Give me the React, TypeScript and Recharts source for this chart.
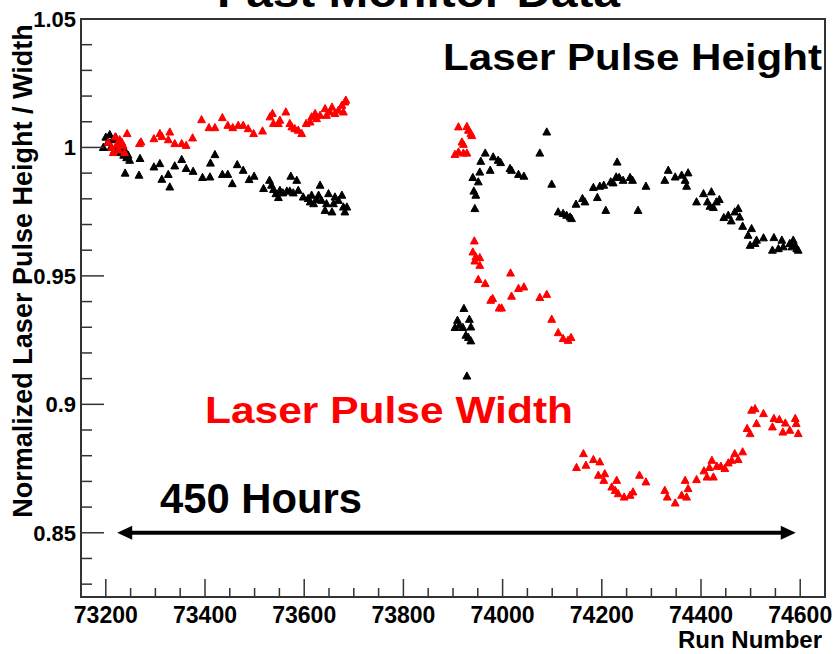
import React from 'react';
import { ScatterChart, Scatter, XAxis, YAxis, ReferenceLine } from 'recharts';

// ---------- data ----------
const xMajorTicks = [73200, 73400, 73600, 73800, 74000, 74200, 74400, 74600];
const xMinorTicks = [73250, 73300, 73350, 73450, 73500, 73550, 73650, 73700, 73750, 73850, 73900, 73950, 74050, 74100, 74150, 74250, 74300, 74350, 74450, 74500, 74550];
const yMajorTicks = [0.85, 0.9, 0.95, 1, 1.05];
const yMinorTicks = [0.83, 0.84, 0.86, 0.87, 0.88, 0.89, 0.91, 0.92, 0.93, 0.94, 0.96, 0.97, 0.98, 0.99, 1.01, 1.02, 1.03, 1.04];

const pulseHeight = [
  { run: 73195, value: 1.0 }, { run: 73200, value: 1.004 }, { run: 73204, value: 1.002 }, { run: 73208, value: 1.005 },
  { run: 73210, value: 1.0 }, { run: 73214, value: 1.003 }, { run: 73218, value: 0.999 }, { run: 73220, value: 1.004 },
  { run: 73224, value: 1.001 }, { run: 73227, value: 1.002 }, { run: 73230, value: 0.998 }, { run: 73233, value: 1.0 },
  { run: 73236, value: 0.997 }, { run: 73238, value: 0.999 }, { run: 73242, value: 0.996 }, { run: 73245, value: 0.997 },
  { run: 73248, value: 0.995 }, { run: 73239, value: 0.990 }, { run: 73269, value: 0.9957 }, { run: 73267, value: 0.9892 },
  { run: 73297, value: 0.9924 }, { run: 73309, value: 0.9937 }, { run: 73313, value: 0.9876 }, { run: 73326, value: 0.9895 },
  { run: 73329, value: 0.9846 }, { run: 73339, value: 0.9928 }, { run: 73353, value: 0.9953 }, { run: 73362, value: 0.9918 },
  { run: 73376, value: 0.9907 }, { run: 73395, value: 0.9883 }, { run: 73410, value: 0.9885 }, { run: 73411, value: 0.9939 },
  { run: 73420, value: 0.9972 }, { run: 73435, value: 0.9895 }, { run: 73446, value: 0.9895 }, { run: 73455, value: 0.9859 },
  { run: 73465, value: 0.9933 }, { run: 73477, value: 0.9911 }, { run: 73489, value: 0.9875 }, { run: 73499, value: 0.9888 },
  { run: 73518, value: 0.9840 }, { run: 73530, value: 0.9872 }, { run: 73534, value: 0.9853 }, { run: 73538, value: 0.9836 },
  { run: 73543, value: 0.9820 }, { run: 73548, value: 0.9805 }, { run: 73551, value: 0.9833 }, { run: 73557, value: 0.9823 },
  { run: 73565, value: 0.9830 }, { run: 73571, value: 0.9830 }, { run: 73578, value: 0.9823 }, { run: 73573, value: 0.9888 },
  { run: 73585, value: 0.9872 }, { run: 73588, value: 0.9833 }, { run: 73598, value: 0.9807 }, { run: 73608, value: 0.9801 },
  { run: 73612, value: 0.9788 }, { run: 73615, value: 0.9814 }, { run: 73619, value: 0.9781 }, { run: 73625, value: 0.9797 },
  { run: 73629, value: 0.9814 }, { run: 73632, value: 0.9853 }, { run: 73635, value: 0.9794 }, { run: 73642, value: 0.9755 },
  { run: 73645, value: 0.9781 }, { run: 73649, value: 0.9820 }, { run: 73656, value: 0.9749 }, { run: 73659, value: 0.9781 },
  { run: 73662, value: 0.9807 }, { run: 73669, value: 0.9794 }, { run: 73676, value: 0.9814 }, { run: 73679, value: 0.9768 },
  { run: 73682, value: 0.9749 }, { run: 73686, value: 0.9768 },
  { run: 73922, value: 0.9373 }, { run: 73909, value: 0.9327 }, { run: 73933, value: 0.9331 }, { run: 73904, value: 0.9299 },
  { run: 73913, value: 0.9308 }, { run: 73920, value: 0.9299 }, { run: 73936, value: 0.9301 }, { run: 73926, value: 0.9269 },
  { run: 73931, value: 0.9260 }, { run: 73936, value: 0.9247 }, { run: 73928, value: 0.9110 },
  { run: 73944, value: 0.9762 }, { run: 73946, value: 0.9814 }, { run: 73942, value: 0.9830 }, { run: 73951, value: 0.9866 },
  { run: 73940, value: 0.9883 }, { run: 73954, value: 0.9904 }, { run: 73956, value: 0.9946 }, { run: 73965, value: 0.9978 },
  { run: 73975, value: 0.9911 }, { run: 73981, value: 0.9963 }, { run: 73991, value: 0.9950 }, { run: 73996, value: 0.9941 },
  { run: 74015, value: 0.9918 }, { run: 74018, value: 0.9911 }, { run: 74032, value: 0.9895 }, { run: 74043, value: 0.9888 },
  { run: 74075, value: 0.9978 }, { run: 74089, value: 1.0060 }, { run: 74099, value: 0.9857 }, { run: 74112, value: 0.9749 },
  { run: 74122, value: 0.9743 }, { run: 74129, value: 0.9736 }, { run: 74136, value: 0.9729 }, { run: 74139, value: 0.9723 },
  { run: 74148, value: 0.9779 }, { run: 74161, value: 0.9801 }, { run: 74166, value: 0.9788 }, { run: 74183, value: 0.9844 },
  { run: 74191, value: 0.9805 }, { run: 74196, value: 0.9849 }, { run: 74204, value: 0.9853 }, { run: 74208, value: 0.9755 },
  { run: 74218, value: 0.9866 }, { run: 74223, value: 0.9862 }, { run: 74229, value: 0.9885 }, { run: 74231, value: 0.9943 },
  { run: 74235, value: 0.9883 }, { run: 74243, value: 0.9872 }, { run: 74257, value: 0.9883 }, { run: 74262, value: 0.9872 },
  { run: 74273, value: 0.9755 }, { run: 74289, value: 0.9849 }, { run: 74327, value: 0.9872 }, { run: 74334, value: 0.9911 },
  { run: 74348, value: 0.9885 }, { run: 74361, value: 0.9892 }, { run: 74368, value: 0.9872 }, { run: 74371, value: 0.9849 },
  { run: 74374, value: 0.9901 }, { run: 74391, value: 0.9788 }, { run: 74405, value: 0.9820 }, { run: 74413, value: 0.9788 },
  { run: 74418, value: 0.9771 }, { run: 74421, value: 0.9827 }, { run: 74425, value: 0.9766 }, { run: 74431, value: 0.9788 },
  { run: 74437, value: 0.9797 }, { run: 74446, value: 0.9727 }, { run: 74455, value: 0.9736 }, { run: 74461, value: 0.9714 },
  { run: 74468, value: 0.9749 }, { run: 74475, value: 0.9762 }, { run: 74478, value: 0.9729 }, { run: 74484, value: 0.9693 },
  { run: 74495, value: 0.9658 }, { run: 74502, value: 0.9684 }, { run: 74499, value: 0.9619 }, { run: 74509, value: 0.9626 },
  { run: 74512, value: 0.9639 }, { run: 74526, value: 0.9648 }, { run: 74544, value: 0.9600 }, { run: 74547, value: 0.9649 },
  { run: 74556, value: 0.9606 }, { run: 74563, value: 0.9639 }, { run: 74566, value: 0.9613 }, { run: 74579, value: 0.9626 },
  { run: 74583, value: 0.9613 }, { run: 74586, value: 0.9639 }, { run: 74590, value: 0.9619 }, { run: 74593, value: 0.9606 },
  { run: 74596, value: 0.9600 },
];

const pulseWidth = [
  { run: 73205, value: 1.002 }, { run: 73212, value: 1.0 }, { run: 73215, value: 0.998 }, { run: 73219, value: 1.0041 },
  { run: 73222, value: 1.001 }, { run: 73226, value: 0.999 }, { run: 73228, value: 1.003 }, { run: 73232, value: 1.0021 },
  { run: 73235, value: 1.0008 }, { run: 73238, value: 0.998 }, { run: 73243, value: 1.0054 }, { run: 73268, value: 1.0015 },
  { run: 73271, value: 1.0021 }, { run: 73297, value: 1.0034 }, { run: 73309, value: 1.0054 }, { run: 73313, value: 1.0043 },
  { run: 73326, value: 1.0030 }, { run: 73329, value: 1.0060 }, { run: 73339, value: 1.0015 }, { run: 73353, value: 1.0015 },
  { run: 73362, value: 1.0008 }, { run: 73375, value: 1.0037 }, { run: 73393, value: 1.0108 }, { run: 73408, value: 1.0077 },
  { run: 73420, value: 1.0077 }, { run: 73435, value: 1.0116 }, { run: 73446, value: 1.0086 }, { run: 73456, value: 1.0077 },
  { run: 73467, value: 1.0086 }, { run: 73477, value: 1.0086 }, { run: 73487, value: 1.0073 }, { run: 73498, value: 1.0054 },
  { run: 73516, value: 1.0064 }, { run: 73531, value: 1.0119 }, { run: 73536, value: 1.0132 }, { run: 73538, value: 1.0093 },
  { run: 73548, value: 1.0093 }, { run: 73551, value: 1.0106 }, { run: 73563, value: 1.0138 }, { run: 73571, value: 1.0093 },
  { run: 73575, value: 1.0080 }, { run: 73581, value: 1.0073 }, { run: 73588, value: 1.0067 }, { run: 73595, value: 1.0054 },
  { run: 73604, value: 1.0093 }, { run: 73612, value: 1.0099 }, { run: 73615, value: 1.0119 }, { run: 73622, value: 1.0132 },
  { run: 73625, value: 1.0112 }, { run: 73632, value: 1.0125 }, { run: 73642, value: 1.0151 }, { run: 73645, value: 1.0125 },
  { run: 73652, value: 1.0138 }, { run: 73656, value: 1.0157 }, { run: 73662, value: 1.0132 }, { run: 73669, value: 1.0145 },
  { run: 73676, value: 1.0164 }, { run: 73679, value: 1.0138 }, { run: 73682, value: 1.0177 }, { run: 73684, value: 1.0184 },
  { run: 73911, value: 1.0080 }, { run: 73928, value: 1.0082 }, { run: 73931, value: 1.0067 }, { run: 73936, value: 1.0054 },
  { run: 73938, value: 1.0046 }, { run: 73918, value: 1.0021 }, { run: 73921, value: 1.0012 }, { run: 73904, value: 0.9973 },
  { run: 73911, value: 0.9982 }, { run: 73921, value: 0.9978 }, { run: 73928, value: 0.9978 },
  { run: 73943, value: 0.9636 }, { run: 73940, value: 0.9593 }, { run: 73946, value: 0.9574 }, { run: 73954, value: 0.9571 },
  { run: 73944, value: 0.9558 }, { run: 73954, value: 0.9541 }, { run: 73951, value: 0.9486 }, { run: 73965, value: 0.9470 },
  { run: 74016, value: 0.9511 }, { run: 73976, value: 0.9405 }, { run: 73980, value: 0.9412 }, { run: 73993, value: 0.9375 },
  { run: 73998, value: 0.9375 }, { run: 74018, value: 0.9421 }, { run: 74032, value: 0.9451 }, { run: 74043, value: 0.9457 },
  { run: 74075, value: 0.9416 }, { run: 74089, value: 0.9428 }, { run: 74099, value: 0.9331 }, { run: 74112, value: 0.9279 },
  { run: 74122, value: 0.9256 }, { run: 74132, value: 0.9249 }, { run: 74138, value: 0.9260 },
  { run: 74149, value: 0.8754 }, { run: 74163, value: 0.8808 }, { run: 74168, value: 0.8763 }, { run: 74183, value: 0.8785 },
  { run: 74196, value: 0.8776 }, { run: 74193, value: 0.8724 }, { run: 74206, value: 0.8730 }, { run: 74204, value: 0.8704 },
  { run: 74220, value: 0.8678 }, { run: 74230, value: 0.8704 }, { run: 74227, value: 0.8665 }, { run: 74233, value: 0.8652 },
  { run: 74245, value: 0.8639 }, { run: 74257, value: 0.8646 }, { run: 74263, value: 0.8659 }, { run: 74276, value: 0.8724 },
  { run: 74289, value: 0.8698 }, { run: 74327, value: 0.8665 }, { run: 74332, value: 0.8639 }, { run: 74348, value: 0.8616 },
  { run: 74361, value: 0.8646 }, { run: 74368, value: 0.8704 }, { run: 74371, value: 0.8639 }, { run: 74374, value: 0.8672 },
  { run: 74391, value: 0.8707 }, { run: 74406, value: 0.8741 }, { run: 74412, value: 0.8717 }, { run: 74417, value: 0.8754 },
  { run: 74422, value: 0.8782 }, { run: 74425, value: 0.8717 }, { run: 74432, value: 0.8759 }, { run: 74440, value: 0.8759 },
  { run: 74448, value: 0.8750 }, { run: 74455, value: 0.8772 }, { run: 74462, value: 0.8782 }, { run: 74468, value: 0.8808 },
  { run: 74475, value: 0.8785 }, { run: 74484, value: 0.8815 }, { run: 74493, value: 0.8906 }, { run: 74499, value: 0.8886 },
  { run: 74512, value: 0.8925 }, { run: 74502, value: 0.8977 }, { run: 74509, value: 0.8983 }, { run: 74526, value: 0.8964 },
  { run: 74544, value: 0.8912 }, { run: 74547, value: 0.8945 }, { run: 74558, value: 0.8941 }, { run: 74565, value: 0.8892 },
  { run: 74570, value: 0.8927 }, { run: 74579, value: 0.8899 }, { run: 74590, value: 0.8945 }, { run: 74592, value: 0.8925 },
  { run: 74596, value: 0.8886 },
];

const arrowSpan = [{ run: 73223, value: 0.85 }, { run: 74591, value: 0.85 }];

// ---------- styles ----------
const FONT = '"Liberation Sans", Arial, Helvetica, sans-serif';
const AXIS_COLOR = '#333';

const Tri = (color: string) => (props: any) => {
  const { cx, cy } = props;
  if (cx == null || cy == null) return null;
  return <polygon points={`${cx},${cy - 4.2} ${cx - 3.9},${cy + 3} ${cx + 3.9},${cy + 3}`} fill={color} stroke={color} strokeWidth={1} strokeLinejoin="round" />;
};

const XTick = (props: any) => {
  const { x, y, payload } = props;
  const v = payload.value;
  const major = xMajorTicks.includes(v);
  return (
    <g>
      <line x1={x} x2={x} y1={y} y2={y - (major ? 18 : 9)} stroke={AXIS_COLOR} strokeWidth={1.5} />
      {major && (
        <text x={x} y={y + 26} textAnchor="middle" fontSize={24} fontWeight="bold" fontFamily={FONT} fill="#000" textLength={64} lengthAdjust="spacingAndGlyphs">
          {v}
        </text>
      )}
    </g>
  );
};

const YTick = (props: any) => {
  const { x, y, payload } = props;
  const v = payload.value;
  const major = yMajorTicks.some((m) => Math.abs(m - v) < 1e-9);
  return (
    <g>
      <line x1={x} x2={x + (major ? 23 : 11)} y1={y} y2={y} stroke={AXIS_COLOR} strokeWidth={1.5} />
      {major && (
        <text x={x - 5} y={y + 8} textAnchor="end" fontSize={22} fontWeight="bold" fontFamily={FONT} fill="#000">
          {String(v)}
        </text>
      )}
    </g>
  );
};

const DoubleArrow = (props: any) => {
  const { x1, y1, x2, y2 } = props;
  if (x1 == null) return null;
  const h = 15;
  const w = 7;
  return (
    <g>
      <line x1={x1 + h - 2} y1={y1} x2={x2 - h + 2} y2={y2} stroke="#000" strokeWidth={4} />
      <polygon points={`${x1},${y1} ${x1 + h},${y1 - w} ${x1 + h},${y1 + w}`} fill="#000" />
      <polygon points={`${x2},${y2} ${x2 - h},${y2 - w} ${x2 - h},${y2 + w}`} fill="#000" />
    </g>
  );
};

export default function App() {
  const allX = [...xMajorTicks, ...xMinorTicks].sort((a, b) => a - b);
  const allY = [...yMajorTicks, ...yMinorTicks].sort((a, b) => a - b);
  return (
    <div style={{ position: 'absolute', left: 0, top: 0, width: 834, height: 654, background: '#fff' }}>
      <ScatterChart width={834} height={654} margin={{ top: 19, right: 9, left: 0, bottom: 0 }}>
        <XAxis
          type="number"
          dataKey="run"
          domain={[73150, 74650]}
          allowDataOverflow
          ticks={allX}
          interval={0}
          tick={<XTick />}
          tickLine={false}
          axisLine={false}
          tickSize={0}
          tickMargin={0}
          height={57}
        />
        <YAxis
          type="number"
          dataKey="value"
          domain={[0.825, 1.05]}
          allowDataOverflow
          ticks={allY}
          interval={0}
          tick={<YTick />}
          tickLine={false}
          axisLine={false}
          tickSize={0}
          tickMargin={0}
          width={81}
        />
        <ReferenceLine
          segment={[{ x: arrowSpan[0].run, y: arrowSpan[0].value }, { x: arrowSpan[1].run, y: arrowSpan[1].value }]}
          shape={(p: any) => <DoubleArrow {...p} />}
          ifOverflow="visible"
        />
        <Scatter name="Laser Pulse Height" data={pulseHeight} shape={Tri('#000000')} isAnimationActive={false} />
        <Scatter name="Laser Pulse Width" data={pulseWidth} shape={Tri('#ff0000')} isAnimationActive={false} />
      </ScatterChart>
      <svg width={834} height={654} style={{ position: 'absolute', left: 0, top: 0, pointerEvents: 'none' }}>
        <rect x={81} y={19} width={744} height={578} fill="none" stroke={AXIS_COLOR} strokeWidth={2} />
        <text x={217} y={7} fontSize={42} fontWeight="bold" fontFamily={FONT} fill="#000" textLength={403} lengthAdjust="spacingAndGlyphs">
          Fast Monitor Data
        </text>
        <text x={443} y={70} fontSize={36} fontWeight="bold" fontFamily={FONT} fill="#000" textLength={379} lengthAdjust="spacingAndGlyphs">
          Laser Pulse Height
        </text>
        <text x={205} y={423} fontSize={37} fontWeight="bold" fontFamily={FONT} fill="#ff0000" textLength={368} lengthAdjust="spacingAndGlyphs">
          Laser Pulse Width
        </text>
        <text x={160} y={513} fontSize={42} fontWeight="bold" fontFamily={FONT} fill="#000" textLength={202} lengthAdjust="spacingAndGlyphs">
          450 Hours
        </text>
        <text x={822} y={648} textAnchor="end" fontSize={24} fontWeight="bold" fontFamily={FONT} fill="#000">
          Run Number
        </text>
        <text
          x={32}
          y={271}
          transform="rotate(-90 32 271)"
          textAnchor="middle"
          fontSize={27}
          fontWeight="bold"
          fontFamily={FONT}
          fill="#000"
        >
          Normalized Laser Pulse Height / Width
        </text>
      </svg>
    </div>
  );
}
